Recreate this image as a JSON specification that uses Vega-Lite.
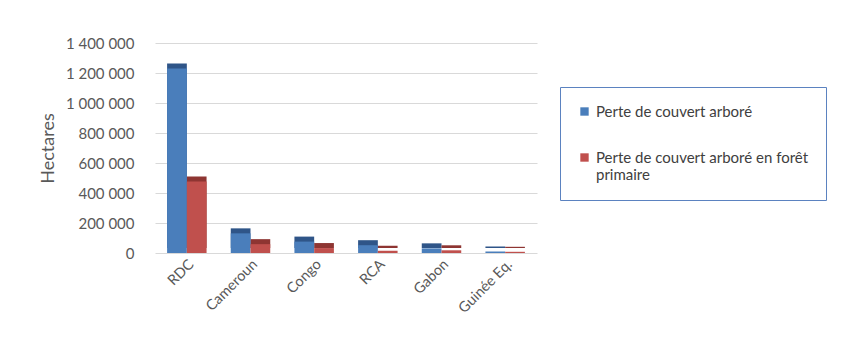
{
  "$schema": "https://vega.github.io/schema/vega-lite/v6.json",
  "autosize": {"type": "none"},
  "width": 382,
  "height": 210,
  "padding": {"left": 155, "top": 43, "right": 313, "bottom": 101},
  "background": "white",
  "config": {
    "font": "Lato",
    "view": {"stroke": null},
    "axis": {"labelFont": "Lato", "titleFont": "Lato", "labelColor": "#595959", "titleColor": "#595959"}
  },
  "data": {
    "values": [
      {"pays": "RDC", "serie": "Perte de couvert arboré", "hectares": 1230000},
      {"pays": "RDC", "serie": "Perte de couvert arboré en forêt primaire", "hectares": 477000},
      {"pays": "Cameroun", "serie": "Perte de couvert arboré", "hectares": 131000},
      {"pays": "Cameroun", "serie": "Perte de couvert arboré en forêt primaire", "hectares": 59000},
      {"pays": "Congo", "serie": "Perte de couvert arboré", "hectares": 76000},
      {"pays": "Congo", "serie": "Perte de couvert arboré en forêt primaire", "hectares": 33000},
      {"pays": "RCA", "serie": "Perte de couvert arboré", "hectares": 52000},
      {"pays": "RCA", "serie": "Perte de couvert arboré en forêt primaire", "hectares": 15000},
      {"pays": "Gabon", "serie": "Perte de couvert arboré", "hectares": 31000},
      {"pays": "Gabon", "serie": "Perte de couvert arboré en forêt primaire", "hectares": 18000},
      {"pays": "Guinée Eq.", "serie": "Perte de couvert arboré", "hectares": 10000},
      {"pays": "Guinée Eq.", "serie": "Perte de couvert arboré en forêt primaire", "hectares": 8000}
    ]
  },
  "encoding": {
    "x": {
      "field": "pays", "type": "nominal", "sort": null,
      "scale": {"paddingInner": 0.38, "paddingOuter": 0.19},
      "axis": {"title": null, "labelAngle": -45, "labelFontSize": 14.5, "labelPadding": 4, "ticks": false, "domain": false}
    },
    "xOffset": {"field": "serie", "type": "nominal", "sort": null},
    "y": {
      "field": "hectares", "type": "quantitative",
      "scale": {"domain": [0, 1400000]},
      "axis": {
        "title": "Hectares", "titleFontSize": 18, "titleFontWeight": "normal", "titlePadding": 8,
        "values": [0, 200000, 400000, 600000, 800000, 1000000, 1200000, 1400000],
        "labelExpr": "replace(format(datum.value, ','), regexp(',', 'g'), ' ')",
        "labelFontSize": 15, "labelPadding": 21, "ticks": false, "domain": false,
        "gridColor": "#d9d9d9", "gridWidth": 1
      }
    }
  },
  "layer": [
    {
      "mark": {"type": "bar", "xOffset": 5, "yOffset": -5, "y2Offset": -5},
      "encoding": {
        "fill": {
          "field": "serie", "type": "nominal", "sort": null,
          "scale": {"range": ["#2f5588", "#8e3532"]},
          "legend": null
        }
      }
    },
    {
      "mark": {"type": "bar"},
      "encoding": {
        "color": {
          "field": "serie", "type": "nominal", "sort": null,
          "scale": {"range": ["#4a7ebb", "#c0504d"]},
          "legend": {
            "title": null, "orient": "none", "legendX": 405, "legendY": 44,
            "strokeColor": "#5b82c0", "padding": 17, "fillColor": "white",
            "symbolType": "square", "symbolSize": 70, "symbolStrokeWidth": 0,
            "labelFontSize": 15, "labelColor": "#404040", "labelLimit": 400,
            "rowPadding": 30, "labelOffset": 4,
            "labelExpr": "datum.label == 'Perte de couvert arboré en forêt primaire' ? ['Perte de couvert arboré en forêt', 'primaire'] : datum.label"
          }
        }
      }
    }
  ],
  "resolve": {"scale": {"color": "independent", "fill": "independent"}}
}
